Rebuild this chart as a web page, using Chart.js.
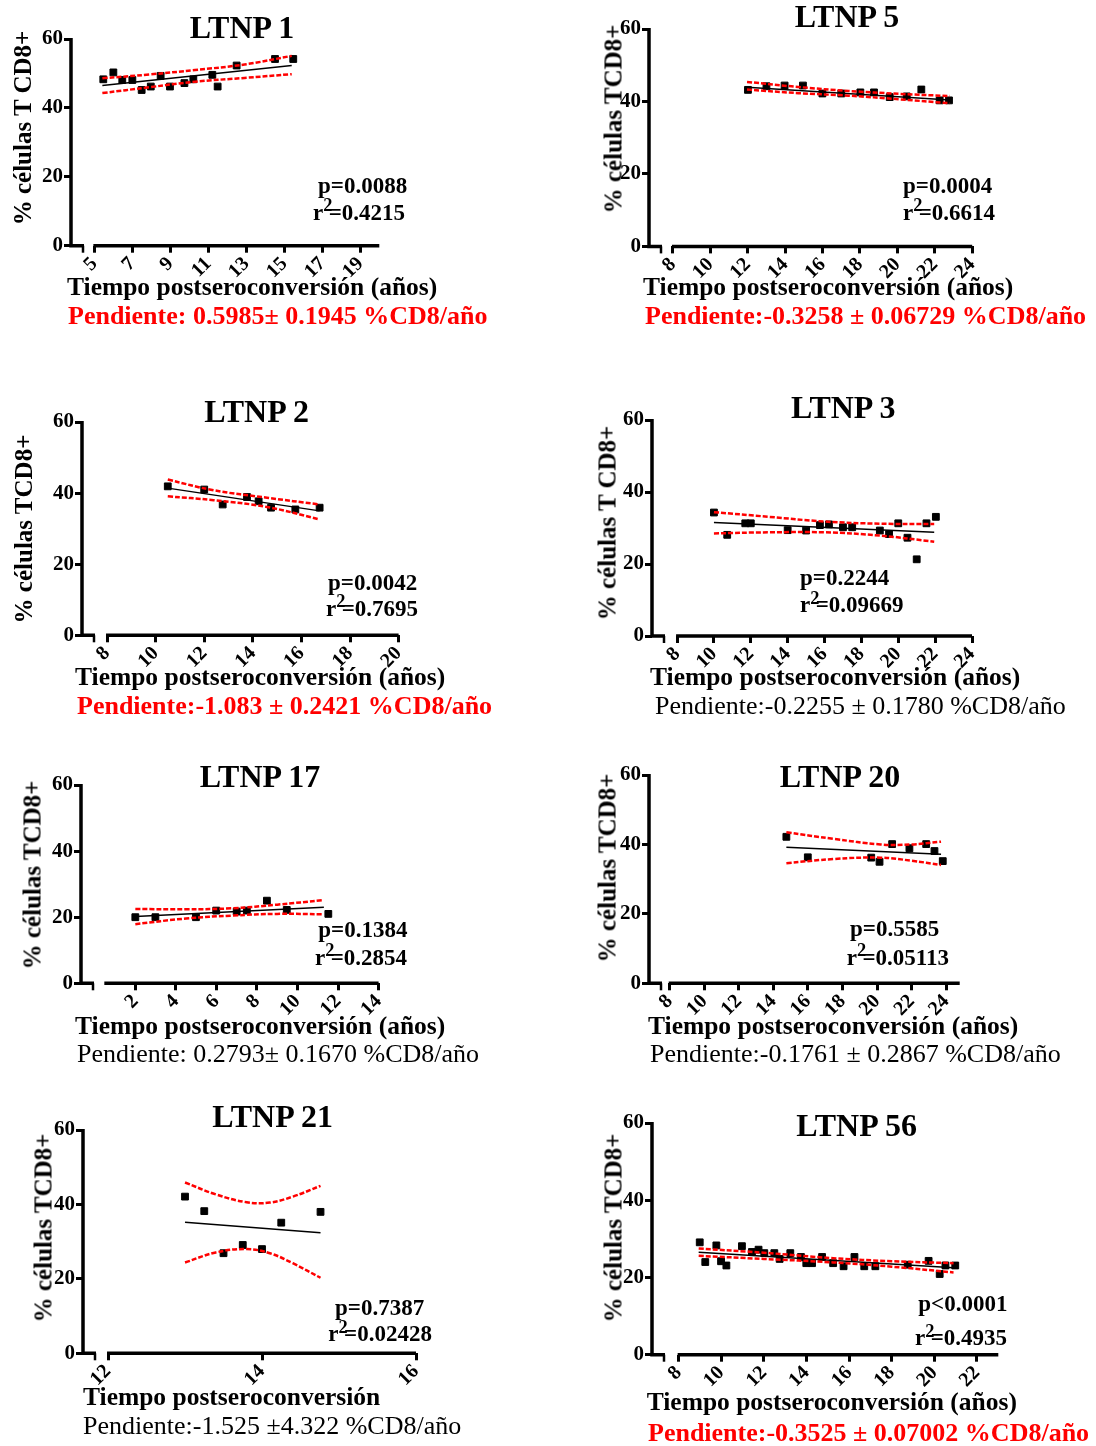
<!DOCTYPE html>
<html>
<head>
<meta charset="utf-8">
<script src="https://cdn.jsdelivr.net/npm/chart.js@4.4.0/dist/chart.umd.min.js"></script>
<style>
  body { margin: 0; background: #fff; }
  #page { position: relative; width: 1096px; height: 1446px; overflow: hidden;
          font-family: "Liberation Serif", "Times New Roman", serif; color: #000; }
  #page canvas { position: absolute; }
  .txt { position: absolute; white-space: nowrap; line-height: 1; }
  .b { font-weight: bold; }
  .red { color: #ff0000; }
  .sup { font-size: 0.8em; position: relative; top: -0.45em; margin-right: -0.2em; }
</style>
</head>
<body>
<div id="page"></div>
<script>
// ---- data ----
var titles = ["LTNP 1", "LTNP 5", "LTNP 2", "LTNP 3", "LTNP 17", "LTNP 20", "LTNP 21", "LTNP 56"];
var yTitles = ["% células T CD8+", "% células TCD8+", "% células TCD8+", "% células T CD8+",
               "% células TCD8+", "% células TCD8+", "% células TCD8+", "% células TCD8+"];
var xTitles = ["Tiempo postseroconversión (años)", "Tiempo postseroconversión (años)",
               "Tiempo postseroconversión (años)", "Tiempo postseroconversión (años)",
               "Tiempo postseroconversión (años)", "Tiempo postseroconversión (años)",
               "Tiempo postseroconversión", "Tiempo postseroconversión (años)"];
var pValues = ["p=0.0088", "p=0.0004", "p=0.0042", "p=0.2244", "p=0.1384", "p=0.5585", "p=0.7387", "p<0.0001"];
var r2Values = ["0.4215", "0.6614", "0.7695", "0.09669", "0.2854", "0.05113", "0.02428", "0.4935"];
var slopes = ["Pendiente: 0.5985\u00b1 0.1945 %CD8/año", "Pendiente:-0.3258 \u00b1 0.06729 %CD8/año",
              "Pendiente:-1.083 \u00b1 0.2421 %CD8/año", "Pendiente:-0.2255 \u00b1 0.1780 %CD8/año",
              "Pendiente: 0.2793\u00b1 0.1670 %CD8/año", "Pendiente:-0.1761 \u00b1 0.2867 %CD8/año",
              "Pendiente:-1.525 \u00b14.322 %CD8/año", "Pendiente:-0.3525 \u00b1 0.07002 %CD8/año"];
var yTicks = [0, 20, 40, 60];

var ltnp1X = [5.47, 6.0, 6.47, 7.0, 7.49, 7.97, 8.49, 8.98, 9.74, 10.21, 11.21, 11.49, 12.49, 14.51, 15.47];
var ltnp1Y = [48.3, 50.3, 48.1, 48.1, 45.2, 46.2, 49.3, 46.2, 47.2, 48.3, 49.6, 46.2, 52.3, 54.2, 54.2];
var ltnp1FitX = [5.42, 15.39], ltnp1FitY = [46.5, 52.3];
var ltnp1CiX = [5.42, 7.9, 10.3, 12.9, 15.39];
var ltnp1Up = [48.6, 49.7, 51.0, 52.6, 55.1];
var ltnp1Lo = [44.3, 46.0, 47.6, 48.7, 49.8];
var ltnp1Ticks = [5, 7, 9, 11, 13, 15, 17, 19];

var ltnp5X = [12.01, 13.0, 13.97, 14.95, 15.99, 17.0, 18.02, 18.75, 19.59, 20.5, 21.28, 22.26, 22.76];
var ltnp5Y = [43.2, 44.2, 44.4, 44.4, 42.2, 42.2, 42.5, 42.5, 41.2, 41.4, 43.3, 40.3, 40.3];
var ltnp5FitX = [11.96, 22.8], ltnp5FitY = [43.9, 40.4];
var ltnp5CiX = [11.96, 14.7, 17.4, 20.1, 22.8];
var ltnp5Up = [45.4, 44.0, 42.9, 42.1, 41.5];
var ltnp5Lo = [43.3, 42.3, 41.6, 40.6, 39.5];
var ltnp5Ticks = [8, 10, 12, 14, 16, 18, 20, 22, 24];

var ltnp2X = [10.5, 12.0, 12.76, 13.76, 14.24, 14.75, 15.75, 16.75];
var ltnp2Y = [41.9, 41.0, 36.8, 38.9, 37.7, 35.9, 35.4, 35.9];
var ltnp2FitX = [10.5, 16.75], ltnp2FitY = [41.4, 35.0];
var ltnp2CiX = [10.5, 12.39, 14.58, 16.75];
var ltnp2Up = [43.8, 40.8, 38.7, 36.8];
var ltnp2Lo = [39.1, 38.0, 36.1, 32.6];
var ltnp2Ticks = [8, 10, 12, 14, 16, 18, 20];

var ltnp3X = [10.0, 10.72, 11.7, 12.0, 14.0, 15.0, 15.75, 16.24, 17.0, 17.5, 19.0, 19.5, 20.0, 20.5, 21.0, 21.53, 22.04];
var ltnp3Y = [34.3, 28.1, 31.3, 31.3, 29.4, 29.3, 30.8, 31.0, 30.2, 30.2, 29.3, 28.3, 31.3, 27.3, 21.3, 31.3, 33.1];
var ltnp3FitX = [10.0, 21.95], ltnp3FitY = [31.5, 28.8];
var ltnp3CiX = [10.0, 13.0, 16.0, 19.0, 21.95];
var ltnp3Up = [34.4, 33.1, 31.8, 31.2, 31.1];
var ltnp3Lo = [28.5, 28.8, 28.8, 27.9, 26.2];
var ltnp3Ticks = [8, 10, 12, 14, 16, 18, 20, 22, 24];

var ltnp17X = [2.0, 2.99, 4.99, 5.99, 7.0, 7.5, 8.49, 9.47, 11.52];
var ltnp17Y = [20.0, 20.0, 20.0, 22.0, 21.7, 22.0, 25.0, 22.2, 21.0];
var ltnp17FitX = [2.0, 11.3], ltnp17FitY = [20.2, 23.0];
var ltnp17CiX = [2.0, 4.5, 6.8, 9.0, 11.3];
var ltnp17Up = [22.5, 22.4, 22.7, 23.8, 25.2];
var ltnp17Lo = [17.9, 19.6, 20.5, 21.0, 20.9];
var ltnp17Ticks = [2, 4, 6, 8, 10, 12, 14];

var ltnp20X = [14.75, 15.99, 19.66, 20.14, 20.87, 21.87, 22.84, 23.32, 23.8];
var ltnp20Y = [42.2, 36.3, 36.2, 35.0, 40.1, 38.9, 40.1, 38.1, 35.2];
var ltnp20FitX = [14.75, 23.7], ltnp20FitY = [39.2, 37.2];
var ltnp20CiX = [14.75, 17.5, 20.2, 22.0, 23.7];
var ltnp20Up = [43.5, 41.6, 40.0, 40.0, 40.8];
var ltnp20Lo = [34.6, 35.8, 36.2, 35.3, 34.1];
var ltnp20Ticks = [8, 10, 12, 14, 16, 18, 20, 22, 24];

var ltnp21X = [13.0, 13.25, 13.5, 13.75, 14.0, 14.25, 14.76];
var ltnp21Y = [42.1, 38.2, 26.9, 29.1, 28.0, 35.1, 38.0];
var ltnp21FitX = [13.0, 14.76], ltnp21FitY = [35.2, 32.4];
var ltnp21CiX = [13.0, 13.4, 13.8, 14.1, 14.4, 14.76];
var ltnp21Up = [45.9, 42.7, 40.6, 40.5, 42.1, 45.0];
var ltnp21Lo = [24.4, 27.1, 28.0, 26.9, 24.2, 20.3];
var ltnp21Ticks = [12, 14, 16];

var ltnp56X = [8.99, 9.25, 9.77, 9.99, 10.24, 10.97, 11.44, 11.75, 12.02, 12.49, 12.74, 13.24, 13.74,
               13.99, 14.26, 14.73, 15.25, 15.74, 16.25, 16.71, 17.23, 18.75, 19.73, 20.25, 20.52, 20.98];
var ltnp56Y = [29.1, 24.0, 28.3, 24.2, 23.1, 28.1, 26.6, 27.2, 26.3, 26.3, 24.8, 26.3, 25.3,
               23.7, 23.7, 25.3, 23.7, 22.9, 25.3, 22.9, 22.9, 23.3, 24.3, 20.9, 23.1, 23.1];
var ltnp56FitX = [8.94, 20.9], ltnp56FitY = [26.55, 22.5];
var ltnp56CiX = [8.94, 12.0, 15.25, 18.0, 20.9];
var ltnp56Up = [27.5, 26.4, 25.0, 24.2, 23.7];
var ltnp56Lo = [25.6, 24.8, 23.9, 22.8, 21.3];
var ltnp56Ticks = [8, 10, 12, 14, 16, 18, 20, 22];

// ---- layout (page pixels) ----
var FONT = '"Liberation Serif", "Times New Roman", serif';
var RED = "#ff0000";
var panels = [
  { xs: ltnp1X, ys: ltnp1Y, fx: ltnp1FitX, fy: ltnp1FitY, cx: ltnp1CiX, up: ltnp1Up, lo: ltnp1Lo, ticks: ltnp1Ticks,
    box: [71, 39.3, 379.3, 246], xMin: 3.77, xMax: 20, start: 5, redSlope: true,
    title: [242, 38], yt: [22, 128], xt: [67, 295], sl: [68, 325], p: [318, 193], r: [313, 220] },
  { xs: ltnp5X, ys: ltnp5Y, fx: ltnp5FitX, fy: ltnp5FitY, cx: ltnp5CiX, up: ltnp5Up, lo: ltnp5Lo, ticks: ltnp5Ticks,
    box: [649.3, 29.3, 972.5, 246.7], xMin: 6.72, xMax: 24, start: 8, redSlope: true,
    title: [847, 27], yt: [613, 119], xt: [643, 295], sl: [645, 325], p: [903, 193], r: [903, 220] },
  { xs: ltnp2X, ys: ltnp2Y, fx: ltnp2FitX, fy: ltnp2FitY, cx: ltnp2CiX, up: ltnp2Up, lo: ltnp2Lo, ticks: ltnp2Ticks,
    box: [81.7, 421.7, 398.3, 635], xMin: 6.97, xMax: 20, start: 8, redSlope: true,
    title: [256.7, 421.7], yt: [23, 529], xt: [75, 685], sl: [77, 715], p: [328, 590], r: [326, 616] },
  { xs: ltnp3X, ys: ltnp3Y, fx: ltnp3FitX, fy: ltnp3FitY, cx: ltnp3CiX, up: ltnp3Up, lo: ltnp3Lo, ticks: ltnp3Ticks,
    box: [651.7, 420, 971.7, 636], xMin: 6.64, xMax: 24, start: 8, redSlope: false,
    title: [843.3, 418.3], yt: [606.7, 523], xt: [650, 685], sl: [655, 715], p: [800, 585], r: [800, 612.7] },
  { xs: ltnp17X, ys: ltnp17Y, fx: ltnp17FitX, fy: ltnp17FitY, cx: ltnp17CiX, up: ltnp17Up, lo: ltnp17Lo, ticks: ltnp17Ticks,
    box: [80.7, 785, 378.3, 983.3], xMin: -0.68, xMax: 14, start: 0.52, redSlope: false,
    title: [260, 786.7], yt: [31.7, 875], xt: [75, 1034], sl: [77, 1063], p: [318.3, 937.7], r: [315, 965] },
  { xs: ltnp20X, ys: ltnp20Y, fx: ltnp20FitX, fy: ltnp20FitY, cx: ltnp20CiX, up: ltnp20Up, lo: ltnp20Lo, ticks: ltnp20Ticks,
    box: [649.3, 775, 960, 983.3], xMin: 6.8, xMax: 24.78, start: 8, redSlope: false,
    title: [840, 786.7], yt: [606.7, 868], xt: [648, 1034], sl: [650, 1063], p: [850, 936.7], r: [846.7, 965] },
  { xs: ltnp21X, ys: ltnp21Y, fx: ltnp21FitX, fy: ltnp21FitY, cx: ltnp21CiX, up: ltnp21Up, lo: ltnp21Lo, ticks: ltnp21Ticks,
    box: [82.7, 1130, 415.7, 1353.3], xMin: 11.675, xMax: 16, start: 12, redSlope: false,
    title: [272.7, 1126.7], yt: [43.3, 1228], xt: [83, 1405], sl: [83, 1435], p: [335, 1315], r: [328.3, 1341.7] },
  { xs: ltnp56X, ys: ltnp56Y, fx: ltnp56FitX, fy: ltnp56FitY, cx: ltnp56CiX, up: ltnp56Up, lo: ltnp56Lo, ticks: ltnp56Ticks,
    box: [651.7, 1123.3, 998, 1355], xMin: 6.75, xMax: 23, start: 8, redSlope: true,
    title: [856.7, 1135.7], yt: [613.3, 1228], xt: [646.7, 1410], sl: [648, 1441.7], p: [918.3, 1311.7], r: [915, 1345.7] }
];

var page = document.getElementById("page");

// place text by its baseline (Liberation Serif, line-height 1)
function addText(html, x, base, size, cls, center) {
  var d = document.createElement("div");
  d.className = "txt " + (cls || "");
  d.style.fontSize = size + "px";
  d.innerHTML = html;
  d.style.left = x + "px";
  d.style.top = (base - 0.84 * size) + "px";
  if (center) d.style.transform = "translateX(-50%)";
  page.appendChild(d);
}

function addVertical(text, cx, cy, size) {
  var d = document.createElement("div");
  d.className = "txt b";
  d.style.fontSize = size + "px";
  d.textContent = text;
  d.style.left = cx + "px";
  d.style.top = cy + "px";
  d.style.transform = "translate(-50%,-50%) rotate(-90deg)";
  page.appendChild(d);
}

function pts(xs, ys) {
  return xs.map(function(x, i) { return { x: x, y: ys[i] }; });
}

function makeChart(p, i) {
  var WY = 40, PT = 14;
  var l = p.box[0], t = p.box[1], r = p.box[2], b = p.box[3];
  var w = Math.ceil(WY + (r - l) + 14), h = Math.ceil(PT + (b - t) + 50);
  var PR = w - WY - (r - l), HX = h - PT - (b - t);

  var c = document.createElement("canvas");
  c.width = w; c.height = h;
  c.style.left = (l - WY) + "px";
  c.style.top = (t - PT) + "px";
  page.appendChild(c);

  var axisBreak = {
    id: "axisBreak",
    afterDraw: function(chart) {
      var a = chart.chartArea, ctx = chart.ctx;
      var s = chart.scales.x.getPixelForValue(p.start);
      ctx.save();
      ctx.strokeStyle = "#000";
      ctx.lineWidth = 3.5;
      ctx.beginPath();
      ctx.moveTo(a.left, a.top - 1);
      ctx.lineTo(a.left, a.bottom + 1.75);
      ctx.moveTo(a.left, a.bottom);
      ctx.lineTo(a.left + 13, a.bottom);
      ctx.moveTo(s - 1, a.bottom);
      ctx.lineTo(a.right, a.bottom);
      ctx.stroke();
      ctx.lineWidth = 2.5;
      ctx.beginPath();
      ctx.moveTo(a.left + 12, a.bottom);
      ctx.lineTo(a.left + 12, a.bottom + 7);
      ctx.stroke();
      ctx.restore();
    }
  };

  new Chart(c, {
    type: "scatter",
    data: {
      datasets: [
        { data: pts(p.cx, p.up), showLine: true, borderColor: RED, borderWidth: 2.5, borderDash: [5, 2],
          pointRadius: 0, tension: 0.4, fill: false },
        { data: pts(p.cx, p.lo), showLine: true, borderColor: RED, borderWidth: 2.5, borderDash: [5, 2],
          pointRadius: 0, tension: 0.4, fill: false },
        { data: pts(p.fx, p.fy), showLine: true, borderColor: "#000", borderWidth: 1.5, pointRadius: 0 },
        { data: pts(p.xs, p.ys), showLine: false, pointStyle: "rect", pointRadius: 4.8,
          pointBackgroundColor: "#000", pointBorderColor: "#000", pointBorderWidth: 1 }
      ]
    },
    options: {
      responsive: false,
      animation: false,
      events: [],
      layout: { padding: { top: PT, right: PR, left: 0, bottom: 0 } },
      plugins: { legend: { display: false }, tooltip: { enabled: false } },
      scales: {
        x: {
          type: "linear", min: p.xMin, max: p.xMax,
          afterBuildTicks: function(s) { s.ticks = p.ticks.map(function(v) { return { value: v }; }); },
          afterFit: function(s) { s.height = HX; s.paddingLeft = 0; s.paddingRight = 0; },
          border: { display: false },
          grid: { drawOnChartArea: false, drawTicks: true, tickLength: 7, tickWidth: 3, color: "#000" },
          ticks: { autoSkip: false, minRotation: 45, maxRotation: 45, padding: 1, color: "#000",
                   callback: function(v) { return String(v); },
                   font: { family: FONT, size: 20, weight: "bold", lineHeight: 1 } }
        },
        y: {
          min: 0, max: 60,
          afterBuildTicks: function(s) { s.ticks = yTicks.map(function(v) { return { value: v }; }); },
          afterFit: function(s) { s.width = WY; s.paddingTop = 0; s.paddingBottom = 0; },
          border: { display: false },
          grid: { drawOnChartArea: false, drawTicks: true, tickLength: 7, tickWidth: 3, color: "#000" },
          ticks: { padding: 1, color: "#000", callback: function(v) { return String(v); },
                   font: { family: FONT, size: 21, weight: "bold" } }
        }
      }
    },
    plugins: [axisBreak]
  });

  addText(titles[i], p.title[0], p.title[1], 32, "b", true);
  addVertical(yTitles[i], p.yt[0], p.yt[1], 25);
  addText(xTitles[i], p.xt[0], p.xt[1], 25.5, "b");
  addText(slopes[i], p.sl[0], p.sl[1], 26, p.redSlope ? "b red" : "");
  addText(pValues[i].replace("<", "&lt;"), p.p[0], p.p[1], 23, "b");
  addText('r<span class="sup">2</span>=' + r2Values[i], p.r[0], p.r[1], 23, "b");
}

panels.forEach(makeChart);
</script>
</body>
</html>
